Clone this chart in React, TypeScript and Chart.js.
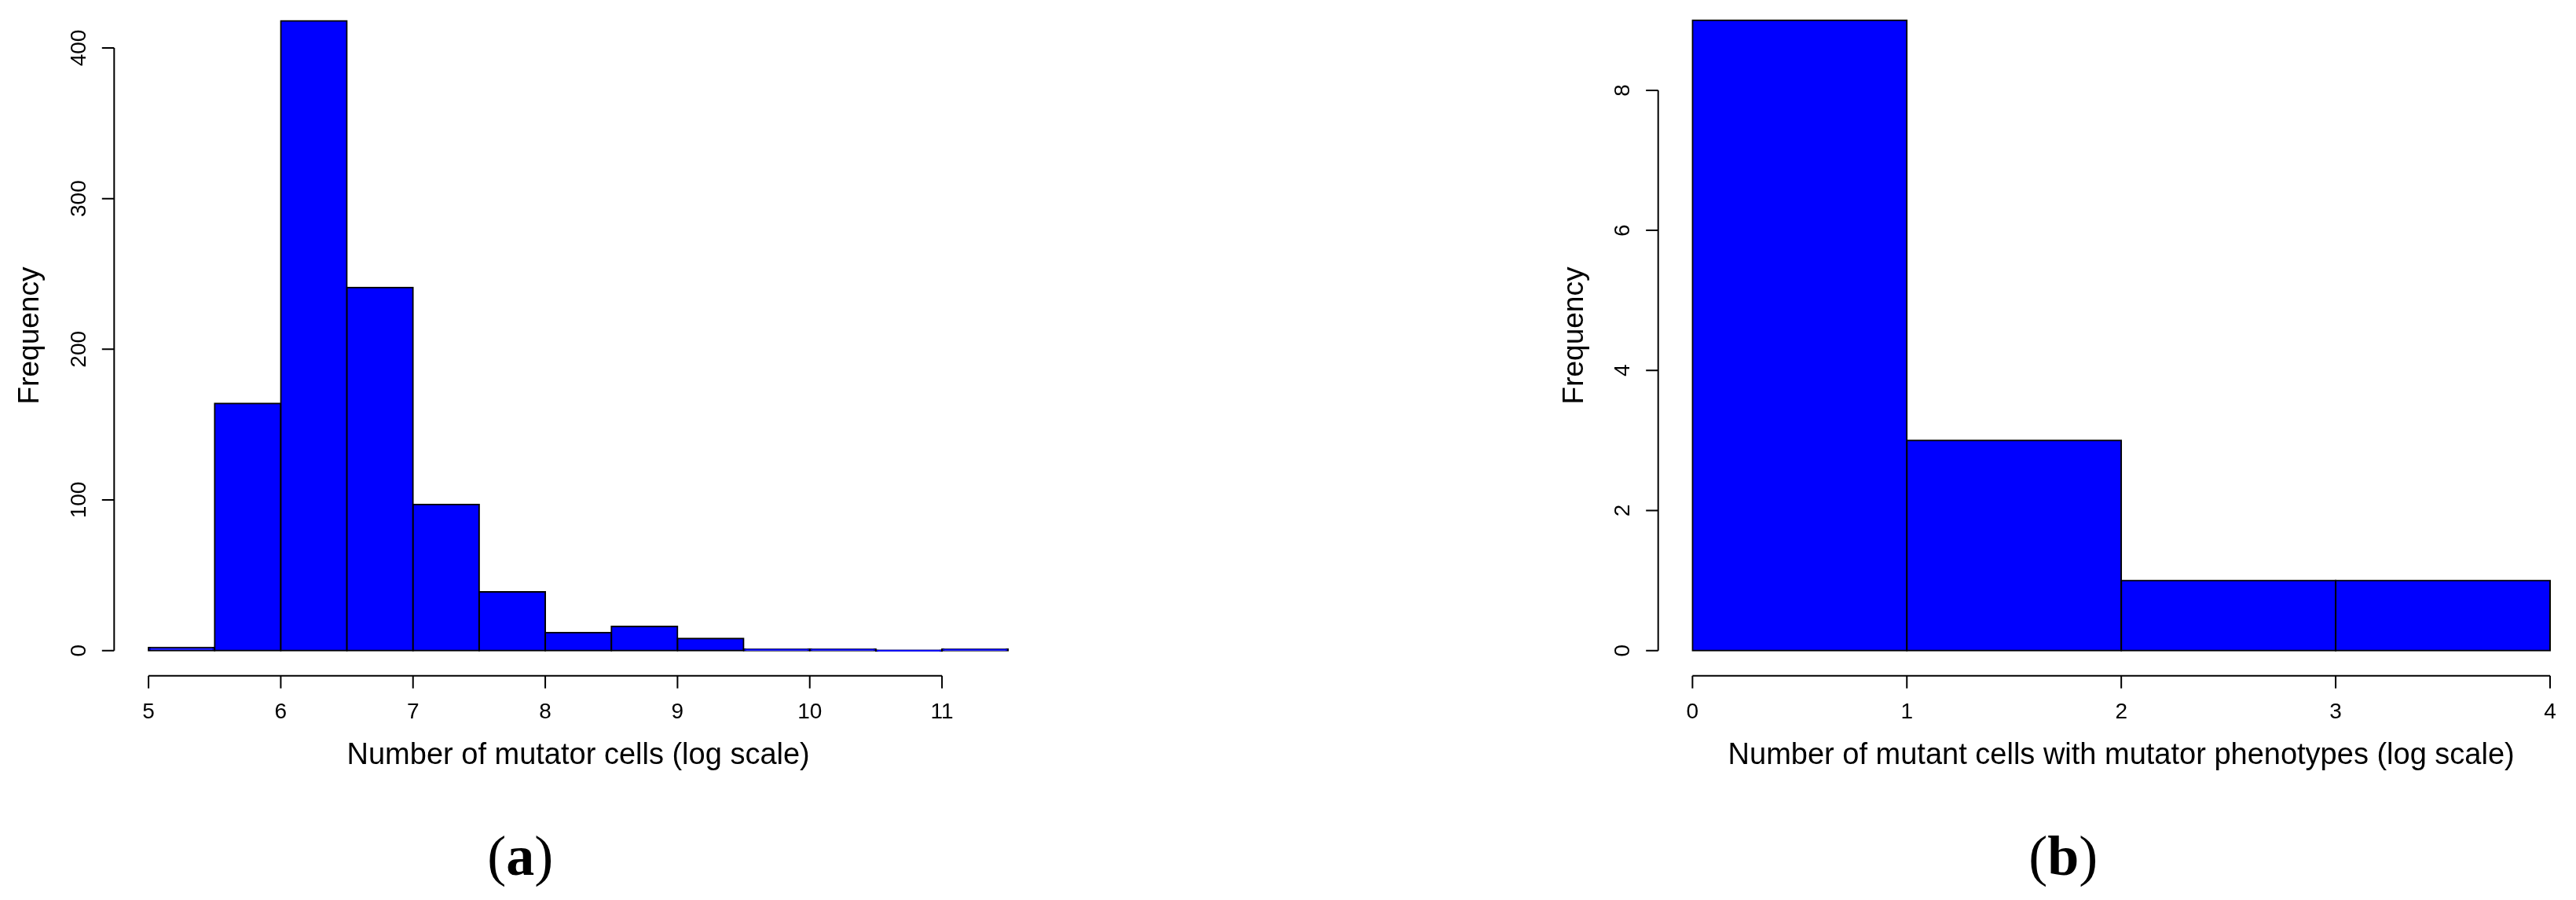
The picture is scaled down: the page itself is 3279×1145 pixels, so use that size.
import React, { useEffect, useRef } from "react";
import { Chart, registerables } from "chart.js";

Chart.register(...registerables);

// ---- data ----
const leftBinStarts = [5, 5.5, 6, 6.5, 7, 7.5, 8, 8.5, 9, 9.5, 10, 10.5, 11];
const leftCounts = [2, 164, 418, 241, 97, 39, 12, 16, 8, 1, 1, 0, 1];
const leftBinWidth = 0.5;
const leftXTicks = [5, 6, 7, 8, 9, 10, 11];
const leftYTicks = [0, 100, 200, 300, 400];

const rightBinStarts = [0, 1, 2, 3];
const rightCounts = [9, 3, 1, 1];
const rightBinWidth = 1;
const rightXTicks = [0, 1, 2, 3, 4];
const rightYTicks = [0, 2, 4, 6, 8];

const leftXTitle = "Number of mutator cells (log scale)";
const rightXTitle = "Number of mutant cells with mutator phenotypes (log scale)";
const yTitle = "Frequency";

const SANS = '"Liberation Sans", Arial, Helvetica, sans-serif';
const SERIF = '"Liberation Serif", "Times New Roman", serif';

const rAxesPlugin = {
  id: "rAxes",
  afterDraw(chart: any, _args: any, opts: any) {
    const { ctx, chartArea } = chart;
    const xs = chart.scales.x;
    const ys = chart.scales.y;
    ctx.save();
    ctx.strokeStyle = "#000";
    ctx.fillStyle = "#000";
    ctx.lineWidth = 2;

    // x axis
    const axisY = chartArea.bottom;
    const xt: number[] = opts.xTicks;
    ctx.beginPath();
    ctx.moveTo(xs.getPixelForValue(xt[0]), axisY);
    ctx.lineTo(xs.getPixelForValue(xt[xt.length - 1]), axisY);
    xt.forEach((t) => {
      const px = xs.getPixelForValue(t);
      ctx.moveTo(px, axisY);
      ctx.lineTo(px, axisY + 16);
    });
    ctx.stroke();
    ctx.font = "28px " + SANS;
    ctx.textAlign = "center";
    ctx.textBaseline = "alphabetic";
    xt.forEach((t) => {
      ctx.fillText(String(t), xs.getPixelForValue(t), axisY + 54.5);
    });

    // y axis
    const axisX = chartArea.left;
    const yt: number[] = opts.yTicks;
    ctx.beginPath();
    ctx.moveTo(axisX, ys.getPixelForValue(yt[0]));
    ctx.lineTo(axisX, ys.getPixelForValue(yt[yt.length - 1]));
    yt.forEach((t) => {
      const py = ys.getPixelForValue(t);
      ctx.moveTo(axisX, py);
      ctx.lineTo(axisX - 15.5, py);
    });
    ctx.stroke();
    yt.forEach((t) => {
      ctx.save();
      ctx.translate(axisX - 36.5, ys.getPixelForValue(t));
      ctx.rotate(-Math.PI / 2);
      ctx.fillText(String(t), 0, 0);
      ctx.restore();
    });

    // y title
    ctx.save();
    ctx.font = "37px " + SANS;
    ctx.translate(axisX - 96, 427);
    ctx.rotate(-Math.PI / 2);
    ctx.fillText(opts.yTitle, 0, 0);
    ctx.restore();

    // x title
    const titleX = xs.getPixelForValue(opts.titleCenter);
    ctx.font = "38px " + SANS;
    ctx.fillText(opts.xTitle, titleX, 972);

    // panel label "(a)"
    const reg = "72px " + SERIF;
    const bold = "bold 72px " + SERIF;
    ctx.font = reg;
    const wp = ctx.measureText("(").width;
    const wq = ctx.measureText(")").width;
    ctx.font = bold;
    const wl = ctx.measureText(opts.panel).width;
    const total = wp + wl + wq;
    let cx = titleX - 74 - total / 2;
    const by = 1113;
    ctx.textAlign = "left";
    ctx.font = reg;
    ctx.fillText("(", cx, by);
    cx += wp;
    ctx.font = bold;
    ctx.fillText(opts.panel, cx, by);
    cx += wl;
    ctx.font = reg;
    ctx.fillText(")", cx, by);

    ctx.restore();
  },
};

function makeConfig(
  starts: number[],
  counts: number[],
  binWidth: number,
  xTicks: number[],
  xMin: number,
  xMax: number,
  yMin: number,
  yMax: number,
  padding: any,
  axes: any
) {
  return {
    type: "bar" as const,
    data: {
      datasets: [
        {
          data: starts.map((s, i) => ({ x: s + binWidth / 2, y: counts[i] })),
          backgroundColor: "#0000FF",
          borderColor: "#000000",
          borderWidth: 2,
          inflateAmount: 1,
          minBarLength: 1,
          borderSkipped: false,
          barPercentage: 1,
          categoryPercentage: 1,
        },
      ],
    },
    options: {
      responsive: false,
      animation: false,
      devicePixelRatio: 1,
      layout: { padding },
      plugins: {
        legend: { display: false },
        tooltip: { enabled: false },
        rAxes: axes,
      },
      scales: {
        x: {
          type: "linear",
          offset: false,
          min: xMin,
          max: xMax,
          display: false,
          afterBuildTicks: (scale: any) => {
            scale.ticks = xTicks.map((v) => ({ value: v }));
          },
        },
        y: { type: "linear", min: yMin, max: yMax, display: false },
      },
    },
    plugins: [rAxesPlugin],
  };
}

export default function App() {
  const leftRef = useRef<HTMLCanvasElement>(null);
  const rightRef = useRef<HTMLCanvasElement>(null);

  useEffect(() => {
    const left = new Chart(
      leftRef.current as HTMLCanvasElement,
      makeConfig(
        leftBinStarts,
        leftCounts,
        leftBinWidth,
        leftXTicks,
        4.74,
        11.76,
        -16.72,
        431.8,
        { left: 145.3, right: 313, top: 0, bottom: 285.3 },
        {
          xTicks: leftXTicks,
          yTicks: leftYTicks,
          xTitle: leftXTitle,
          yTitle,
          titleCenter: 8.25,
          panel: "a",
        }
      ) as any
    );
    const right = new Chart(
      rightRef.current as HTMLCanvasElement,
      makeConfig(
        rightBinStarts,
        rightCounts,
        rightBinWidth,
        rightXTicks,
        -0.16,
        4.121,
        -0.36,
        9.29,
        { left: 470.7, right: 0, top: 0, bottom: 285.3 },
        {
          xTicks: rightXTicks,
          yTicks: rightYTicks,
          xTitle: rightXTitle,
          yTitle,
          titleCenter: 2,
          panel: "b",
        }
      ) as any
    );
    return () => {
      left.destroy();
      right.destroy();
    };
  }, []);

  return (
    <div
      style={{
        position: "fixed",
        left: 0,
        top: 0,
        width: 3279,
        height: 1145,
        background: "#fff",
        overflow: "hidden",
      }}
    >
      <canvas
        ref={leftRef}
        width={1640}
        height={1145}
        style={{ position: "absolute", left: 0, top: 0, width: 1640, height: 1145 }}
      />
      <canvas
        ref={rightRef}
        width={1639}
        height={1145}
        style={{ position: "absolute", left: 1640, top: 0, width: 1639, height: 1145 }}
      />
    </div>
  );
}
